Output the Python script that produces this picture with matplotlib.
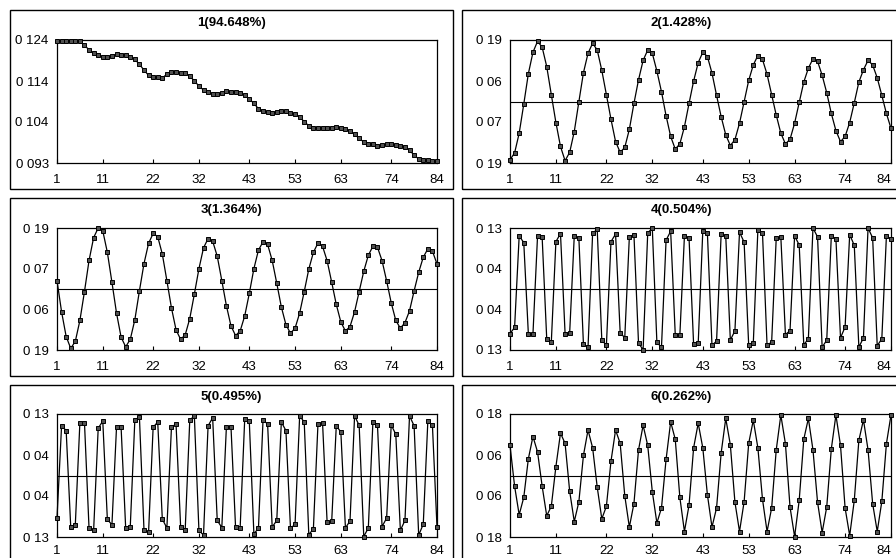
import numpy as np
import matplotlib
matplotlib.use("Agg")
import matplotlib.pyplot as plt
from matplotlib.patches import Rectangle

plt.rcParams["font.family"] = ["Liberation Sans", "DejaVu Sans"]

# ---------------- data ----------------
x_idx = np.arange(1, 85)
x_ticks = [1, 11, 22, 32, 43, 53, 63, 74, 84]

titles = ["1(94.648%)", "2(1.428%)", "3(1.364%)", "4(0.504%)", "5(0.495%)", "6(0.262%)"]

comp1 = [0.1238, 0.1238, 0.1238, 0.1237, 0.1237, 0.1237, 0.1227, 0.1215, 0.1206, 0.1201,
         0.1198, 0.1197, 0.1200, 0.1204, 0.1203, 0.1202, 0.1198, 0.1191, 0.1179, 0.1164,
         0.1151, 0.1147, 0.1146, 0.1144, 0.1154, 0.1159, 0.1159, 0.1157, 0.1156, 0.1149,
         0.1137, 0.1124, 0.1114, 0.1108, 0.1105, 0.1104, 0.1107, 0.1111, 0.1110, 0.1109,
         0.1107, 0.1101, 0.1092, 0.1080, 0.1067, 0.1061, 0.1059, 0.1057, 0.1059, 0.1061,
         0.1060, 0.1056, 0.1053, 0.1046, 0.1034, 0.1024, 0.1019, 0.1019, 0.1018, 0.1018,
         0.1019, 0.1020, 0.1019, 0.1016, 0.1010, 0.1002, 0.0992, 0.0983, 0.0979, 0.0977,
         0.0974, 0.0976, 0.0977, 0.0977, 0.0976, 0.0974, 0.0971, 0.0962, 0.0950, 0.0940,
         0.0938, 0.0937, 0.0936, 0.0934]

comp2 = [-0.180, -0.159, -0.098, -0.008, 0.086, 0.152, 0.186, 0.168, 0.108, 0.021,
         -0.065, -0.139, -0.183, -0.157, -0.093, -0.001, 0.089, 0.149, 0.180, 0.159,
         0.096, 0.021, -0.055, -0.124, -0.157, -0.142, -0.086, -0.006, 0.067, 0.127,
         0.159, 0.149, 0.094, 0.030, -0.044, -0.108, -0.147, -0.131, -0.078, -0.006,
         0.063, 0.120, 0.152, 0.139, 0.088, 0.019, -0.047, -0.103, -0.136, -0.118,
         -0.067, -0.001, 0.065, 0.113, 0.142, 0.130, 0.084, 0.021, -0.042, -0.098,
         -0.131, -0.117, -0.067, -0.003, 0.060, 0.103, 0.132, 0.124, 0.081, 0.027,
         -0.037, -0.090, -0.124, -0.108, -0.065, -0.004, 0.060, 0.098, 0.127, 0.113,
         0.073, 0.019, -0.037, -0.083]

comp3 = [0.026, -0.071, -0.148, -0.185, -0.163, -0.098, -0.008, 0.089, 0.160, 0.190,
         0.181, 0.114, 0.021, -0.075, -0.150, -0.180, -0.157, -0.096, -0.006, 0.079,
         0.142, 0.173, 0.163, 0.109, 0.026, -0.059, -0.127, -0.157, -0.143, -0.092,
         -0.016, 0.063, 0.128, 0.157, 0.149, 0.102, 0.026, -0.052, -0.115, -0.145,
         -0.131, -0.084, -0.014, 0.063, 0.121, 0.147, 0.139, 0.089, 0.018, -0.056,
         -0.111, -0.138, -0.122, -0.075, -0.008, 0.062, 0.114, 0.143, 0.133, 0.088,
         0.021, -0.048, -0.103, -0.131, -0.117, -0.071, -0.008, 0.055, 0.105, 0.133,
         0.130, 0.088, 0.025, -0.043, -0.098, -0.122, -0.105, -0.068, -0.006, 0.052,
         0.099, 0.125, 0.118, 0.078]

comp4 = [-0.095, -0.082, 0.113, 0.099, -0.096, -0.096, 0.113, 0.111, -0.106, -0.113,
         0.101, 0.118, -0.095, -0.093, 0.113, 0.109, -0.118, -0.124, 0.119, 0.127,
         -0.109, -0.120, 0.101, 0.117, -0.093, -0.104, 0.111, 0.116, -0.116, -0.129,
         0.119, 0.130, -0.114, -0.124, 0.104, 0.123, -0.097, -0.099, 0.113, 0.109,
         -0.118, -0.116, 0.124, 0.120, -0.120, -0.111, 0.117, 0.113, -0.109, -0.089,
         0.121, 0.100, -0.120, -0.116, 0.126, 0.120, -0.120, -0.113, 0.109, 0.111,
         -0.097, -0.089, 0.113, 0.094, -0.119, -0.106, 0.130, 0.111, -0.124, -0.109,
         0.113, 0.107, -0.104, -0.081, 0.116, 0.093, -0.124, -0.104, 0.130, 0.109,
         -0.121, -0.106, 0.113, 0.107]

comp5 = [-0.090, 0.105, 0.095, -0.109, -0.104, 0.112, 0.112, -0.112, -0.116, 0.100,
         0.115, -0.093, -0.104, 0.102, 0.102, -0.111, -0.109, 0.117, 0.124, -0.115,
         -0.120, 0.102, 0.113, -0.092, -0.111, 0.102, 0.109, -0.108, -0.115, 0.117,
         0.126, -0.116, -0.126, 0.105, 0.122, -0.095, -0.110, 0.103, 0.103, -0.109,
         -0.111, 0.119, 0.115, -0.123, -0.112, 0.117, 0.109, -0.109, -0.095, 0.113,
         0.095, -0.112, -0.103, 0.126, 0.113, -0.125, -0.113, 0.109, 0.112, -0.099,
         -0.097, 0.105, 0.092, -0.111, -0.096, 0.126, 0.106, -0.129, -0.111, 0.113,
         0.106, -0.108, -0.090, 0.107, 0.087, -0.116, -0.095, 0.126, 0.105, -0.126,
         -0.103, 0.115, 0.106, -0.109]

comp6 = [0.088, -0.031, -0.115, -0.064, 0.049, 0.114, 0.069, -0.031, -0.118, -0.090,
         0.026, 0.124, 0.094, -0.046, -0.135, -0.077, 0.059, 0.133, 0.081, -0.034,
         -0.127, -0.090, 0.042, 0.133, 0.094, -0.059, -0.151, -0.082, 0.075, 0.147,
         0.088, -0.047, -0.139, -0.095, 0.047, 0.157, 0.106, -0.064, -0.164, -0.087,
         0.081, 0.153, 0.081, -0.056, -0.151, -0.095, 0.066, 0.167, 0.090, -0.078,
         -0.164, -0.077, 0.094, 0.162, 0.081, -0.069, -0.164, -0.095, 0.075, 0.177,
         0.093, -0.092, -0.179, -0.073, 0.106, 0.167, 0.075, -0.078, -0.167, -0.092,
         0.078, 0.177, 0.088, -0.095, -0.176, -0.073, 0.103, 0.163, 0.075, -0.082,
         -0.164, -0.076, 0.093, 0.177]

series = [comp1, comp2, comp3, comp4, comp5, comp6]

y_ranges = [(0.093, 0.124), (-0.19, 0.19), (-0.19, 0.19),
            (-0.13, 0.13), (-0.13, 0.13), (-0.18, 0.18)]
# bottom -> top, as printed in the source
y_labels = [["0 093", "0 104", "0 114", "0 124"],
            ["0 19", "0 07", "0 06", "0 19"],
            ["0 19", "0 06", "0 07", "0 19"],
            ["0 13", "0 04", "0 04", "0 13"],
            ["0 13", "0 04", "0 04", "0 13"],
            ["0 18", "0 06", "0 06", "0 18"]]
zero_line = [False, True, True, True, True, True]

# ---------------- layout (pixels) ----------------
W, H = 896, 558
box_cols = [(10, 453), (462, 905)]
box_rows = [(10, 189), (198, 376), (385, 565)]
ax_cols = [(57, 437), (510, 891)]
ax_rows = [(40, 163), (228, 350), (414, 537)]
title_y = [23, 210, 397]
xlabel_pad = [8, 8, 6]   # bottom row kept inside the figure edge

fig = plt.figure(figsize=(W / 100, H / 100), dpi=100, facecolor="white")

for i in range(6):
    r, c = divmod(i, 2)
    bx0, bx1 = box_cols[c]
    by0, by1 = box_rows[r]
    fig.patches.append(Rectangle((bx0 / W, 1 - by1 / H), (bx1 - bx0) / W, (by1 - by0) / H,
                                 transform=fig.transFigure, fill=False,
                                 edgecolor="black", lw=1.0))
    fig.text((bx0 + min(bx1, W + 4)) / 2 / W, 1 - title_y[r] / H, titles[i],
             ha="center", va="center", fontsize=9.5, fontweight="bold")

    l, rr = ax_cols[c]
    t, b = ax_rows[r]
    ax = fig.add_axes([l / W, 1 - b / H, (rr - l) / W, (b - t) / H])
    lo, hi = y_ranges[i]
    ax.plot(x_idx, series[i], color="black", lw=0.9, marker="s", ms=2.8,
            mfc="#505050", mec="black", mew=0.7, clip_on=False, zorder=3)
    if zero_line[i]:
        ax.axhline(0, color="black", lw=0.8, zorder=2)
    ax.set_xlim(1, 84)
    ax.set_ylim(lo, hi)
    ax.set_xticks(x_ticks)
    ax.set_xticklabels([str(v) for v in x_ticks])
    ax.set_yticks(np.linspace(lo, hi, 4))
    ax.set_yticklabels(y_labels[i])
    ax.tick_params(axis="x", direction="in", length=3, width=0.8, labelsize=9.5,
                   pad=xlabel_pad[r])
    ax.tick_params(axis="y", length=0, labelsize=9.5, pad=6)
    if c == 1:
        # keep the last label inside the figure edge
        last = ax.get_xticklabels()[-1]
        last.set_horizontalalignment("right")
    for s in ax.spines.values():
        s.set_linewidth(0.9)
        s.set_edgecolor("black")

fig.savefig("out.png", dpi=100, facecolor="white")
